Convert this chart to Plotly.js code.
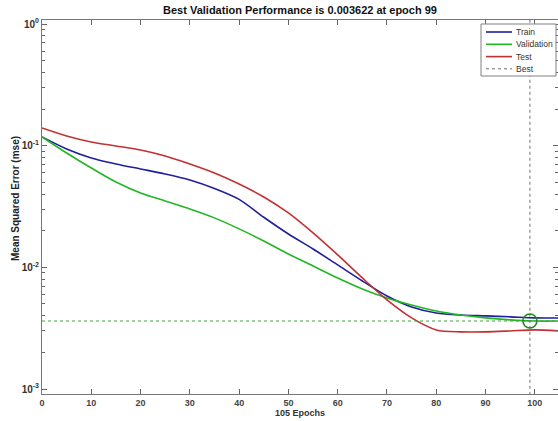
<!DOCTYPE html>
<html>
<head>
<meta charset="utf-8">
<script src="https://cdn.plot.ly/plotly-3.0.1.min.js"></script>
<style>
html,body{margin:0;padding:0;background:#fff;}
#chart{width:558px;height:421px;}
</style>
</head>
<body>
<div id="chart"></div>
<script>
var epochs = [0,5,10,15,20,25,30,35,40,45,50,55,60,65,70,75,80,85,90,95,100,105];
var trainPerf = [0.1180,0.0940,0.0793,0.0708,0.0644,0.0586,0.0523,0.0445,0.0362,0.0258,0.0188,0.01416,0.01047,0.00773,0.00582,0.00473,0.00422,0.00406,0.00399,0.00392,0.00384,0.00384];
var validationPerf = [0.1180,0.0871,0.0656,0.0503,0.0409,0.0351,0.0302,0.0255,0.0207,0.01649,0.01289,0.01027,0.00818,0.00665,0.00561,0.00491,0.00438,0.00406,0.00384,0.00370,0.003622,0.00362];
var testPerf = [0.1398,0.1202,0.1073,0.0995,0.0922,0.0823,0.0708,0.0597,0.0484,0.0379,0.0280,0.01918,0.01265,0.00818,0.00540,0.00384,0.00306,0.00295,0.00295,0.00300,0.00306,0.00300];
var bestEpoch = 99;
var bestPerf = 0.003622;
var totalEpochs = 105;
var xTicks = [0,10,20,30,40,50,60,70,80,90,100];
var yTicks = [0.001,0.01,0.1,1];
var yTickText = ['10<sup>-3</sup>','10<sup>-2</sup>','10<sup>-1</sup>','10<sup>0</sup>'];
var seriesNames = ['Train','Validation','Test','Best'];
var seriesColors = ['#1f1f9c','#22b722','#c23131','#707070'];

var minorVals = [];
[0.001,0.01,0.1].forEach(function(d){ for (var k=2;k<=9;k++) minorVals.push(d*k); });

var FONT = 'Liberation Sans, Arial, sans-serif';

var traces = [
  {x: epochs, y: trainPerf, name: seriesNames[0], mode: 'lines', line: {color: seriesColors[0], width: 1.6, shape: 'spline', smoothing: 0.8}},
  {x: epochs, y: validationPerf, name: seriesNames[1], mode: 'lines', line: {color: seriesColors[1], width: 1.6, shape: 'spline', smoothing: 0.8}},
  {x: epochs, y: testPerf, name: seriesNames[2], mode: 'lines', line: {color: seriesColors[2], width: 1.6, shape: 'spline', smoothing: 0.8}},
  {x: [bestEpoch, bestEpoch], y: [0.0008, 1.2], name: seriesNames[3], mode: 'lines', line: {color: '#707070', width: 1, dash: 'dot'}},
  {x: [0, totalEpochs], y: [bestPerf, bestPerf], mode: 'lines', line: {color: '#3aa83a', width: 1, dash: 'dot'}},
  {x: [bestEpoch], y: [bestPerf], mode: 'markers', marker: {symbol: 'circle-open', size: 14, color: '#1d8a1d', line: {width: 1.5, color: '#1d8a1d'}}}
];

// compact legend drawn like MATLAB's
function px2x(px){ return (px-42)/516; }
function px2y(py){ return (394-py)/374; }
var shapes = [
  {type: 'rect', xref: 'paper', yref: 'paper', x0: px2x(481), x1: px2x(556), y0: px2y(76), y1: px2y(24), line: {color: '#808080', width: 1}, fillcolor: '#fff', layer: 'above'}
];
var annotations = [];
var rowY = [32, 44.3, 56.6, 68.8];
seriesNames.forEach(function(n, i){
  shapes.push({type: 'line', xref: 'paper', yref: 'paper', x0: px2x(486), x1: px2x(512), y0: px2y(rowY[i]), y1: px2y(rowY[i]),
    line: {color: seriesColors[i], width: i === 3 ? 1 : 1.6, dash: i === 3 ? 'dot' : 'solid'}, layer: 'above'});
  annotations.push({text: n, xref: 'paper', yref: 'paper', x: px2x(514), y: px2y(rowY[i]), xanchor: 'left', yanchor: 'middle', showarrow: false,
    font: {family: FONT, size: 8.5, color: '#333'}});
});
annotations.push({text: 'Mean Squared Error (mse)', textangle: -90, xref: 'paper', yref: 'paper', x: px2x(15), y: px2y(199), xanchor: 'center', yanchor: 'middle', showarrow: false,
  font: {family: FONT, size: 10, color: '#222', weight: 'bold'}});

var layout = {
  width: 558, height: 421,
  margin: {l: 42, r: 0, t: 20, b: 27, pad: 0},
  paper_bgcolor: '#fff', plot_bgcolor: '#fff',
  showlegend: false,
  title: {text: 'Best Validation Performance is 0.003622 at epoch 99', font: {family: FONT, size: 11, color: '#111', weight: 'bold'}, x: 0.5, xref: 'paper', y: 1 - 10/421, yref: 'container', yanchor: 'middle'},
  xaxis: {
    range: [0, 104.7], tickvals: xTicks, ticks: 'inside', ticklen: 5, tickcolor: '#666',
    showline: true, linecolor: '#777', linewidth: 1, mirror: 'ticks', showgrid: false, zeroline: false,
    tickfont: {family: FONT, size: 9, color: '#444', weight: 'bold'},
    title: {text: totalEpochs + ' Epochs', font: {family: FONT, size: 9, color: '#333', weight: 'bold'}, standoff: 0}
  },
  yaxis: {
    type: 'log', range: [-3.041, 0.033], tickmode: 'array', tickvals: yTicks, ticktext: yTickText,
    ticks: 'inside', ticklen: 5, tickcolor: '#666',
    minor: {tickmode: 'array', tickvals: minorVals, ticks: 'inside', ticklen: 3, tickcolor: '#666', showgrid: false},
    showline: true, linecolor: '#777', linewidth: 1, mirror: 'ticks', showgrid: false, zeroline: false,
    tickfont: {family: FONT, size: 10, color: '#333', weight: 'bold'}
  },
  shapes: shapes,
  annotations: annotations
};

Plotly.newPlot('chart', traces, layout, {displayModeBar: false, staticPlot: true});
</script>
</body>
</html>
